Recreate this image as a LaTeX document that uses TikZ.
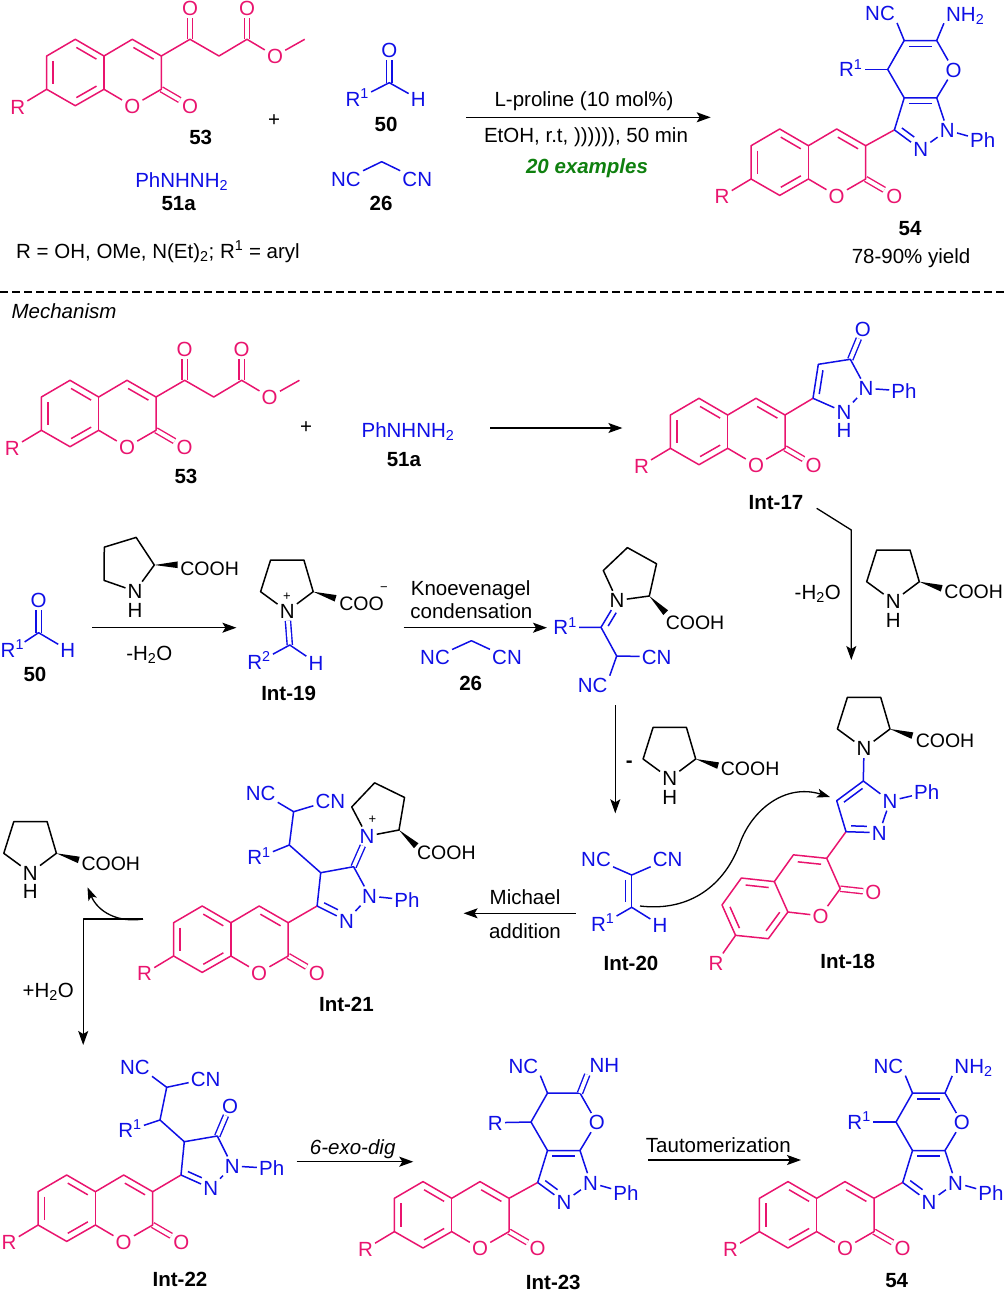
\documentclass[tikz,border=0pt]{standalone}
\usepackage{fontspec}
\setmainfont{Liberation Sans}
\usetikzlibrary{calc,arrows.meta}

\definecolor{coumpink}{RGB}{233,20,110}
\definecolor{azoblue}{RGB}{15,15,230}
\definecolor{exgreen}{RGB}{15,128,15}

\tikzset{
	dbond/.style={double,double distance=3.8pt,line width=1.4pt},
	rxn/.style={line width=1.3pt,-{Stealth[length=14pt,width=10pt,inset=3pt]}},
	small/.style={font=\fontsize{13}{13}\selectfont,text height=9pt},
	acid/.style={font=\fontsize{19.5}{22}\selectfont}
}

\newcommand\dblin[4][.15]{\draw ($(#2)!.15!(#3)!#4!90:(#3)$) -- ($(#3)!#1!(#2)!#4!-90:(#2)$);}

\newcommand\coumarin[4]{
	\begin{scope}[shift={(#2,#3)},rotate=#4,name prefix=#1-,coumpink]
		\coordinate (C3) at (0,0);
		\coordinate (C2) at (0,33.3);
		\coordinate (C8a) at (-57.3,33.3);
		\coordinate (C8) at (-86,49.7);
		\coordinate (C7) at (-114.6,33.3);
		\coordinate (C6) at (-114.6,0);
		\coordinate (C5) at (-86,-16.7);
		\coordinate (C4a) at (-57.3,0);
		\coordinate (C4) at (-29,-16.7);
		\node (O1) at (-29,50) {O};
		\node (Ox) at (28.7,50) {O};
		\node (Rg) at (-143.6,50.7) {R};
		\draw[dbond] (C2) -- (Ox);
		\draw (C3) -- (C2) -- (O1) -- (C8a) -- (C8) -- (C7) -- (C6) -- (C5) -- (C4a) -- (C4) -- (C3);
		\draw (C4a) -- (C8a);
		\draw (C7) -- (Rg);
		\dblin{C6}{C7}{6.5pt}
		\dblin{C8}{C8a}{6.5pt}
		\dblin{C4a}{C5}{6.5pt}
		\dblin{C3}{C4}{6.5pt}
	\end{scope}
}

% acetoacetate arm on the coumarin
\newcommand\ketoester[3]{
	\coumarin{#1}{#2}{#3}{0}
	\begin{scope}[shift={(#2,#3)},name prefix=#1-,coumpink]
		\coordinate (Ck) at (28.7,-16.7);
		\coordinate (Cm) at (57.7,0);
		\coordinate (Ce) at (85.7,-16.7);
		\coordinate (Me) at (143.4,-16.7);
		\node (Ok) at (28.7,-48) {O};
		\node (Oe) at (85.7,-48) {O};
		\node (Os) at (113.7,0) {O};
		\draw[dbond] (Ck) -- (Ok);
		\draw[dbond] (Ce) -- (Oe);
		\draw (C3) -- (Ck) -- (Cm) -- (Ce) -- (Os) -- (Me);
	\end{scope}
}

% bicyclic part shared by 54 and Int-23
\newcommand\fusedcore[3]{
	\begin{scope}[shift={(#2,#3)},name prefix=#1-,azoblue]
		\coordinate (Cp) at (28.7,-15.8);
		\coordinate (C3a) at (38.5,-47.8);
		\coordinate (C7a) at (71,-47.8);
		\coordinate (C9) at (71,-105.2);
		\coordinate (C10) at (38.5,-105.2);
		\coordinate (C11) at (22,-76.3);
		\node (N1) at (81.6,-15.5) {N};
		\node (N2) at (55,3.6) {N};
		\node (Oy) at (87.8,-75.7) {O};
		\node (Ph) at (117,-5.5) {Ph};
		\node (NC) at (14.3,-132.3) {NC};
		\draw[coumpink] (C3) -- (Cp);
		\draw (Cp) -- (C3a) -- (C7a) -- (N1) -- (N2) -- (Cp);
		\draw (C3a) -- (C11) -- (C10) -- (C9) -- (Oy) -- (C7a);
		\draw (N1) -- (Ph);
		\draw (C10) -- (NC.south east);
		\dblin[.38]{Cp}{N2}{6pt}
		\dblin{C3a}{C7a}{-5.5pt}
	\end{scope}
}

\newcommand\pyranamine[3]{
	\coumarin{#1}{#2}{#3}{0}
	\fusedcore{#1}{#2}{#3}
	\begin{scope}[shift={(#2,#3)},name prefix=#1-,azoblue]
		\node (NH) at (99.5,-132) {NH\textsubscript{2}};
		\node[anchor=east] (R1) at (-1,-76.3) {R\textsuperscript{1}};
		\draw (C9) -- (NH.south west);
		\draw (C11) -- (R1);
		\dblin{C10}{C9}{-6pt}
	\end{scope}
}

% pyrrolidine ring with the wedge, anchored at the alpha carbon
\newcommand\prolring[5]{
	\begin{scope}[shift={(#2,#3)},rotate=#4,name prefix=#1-]
		\coordinate (al) at (0,0);
		\coordinate (be) at (-9.3,-31.7);
		\coordinate (ga) at (-42.6,-31.7);
		\coordinate (de) at (-52.6,0);
		\coordinate (tip) at (22.4,6.6);
		\node[#5] (N) at (-26,19.5) {N};
		\draw (N) -- (al) -- (be) -- (ga) -- (de) -- (N);
		\fill (al) -- (21.5,9.8) -- (23.3,3.4) -- cycle;
	\end{scope}
}

\newcommand\freepro[4]{
	\prolring{#1}{#2}{#3}{#4}{black}
	\node (#1-H) at ($(#1-N)+(0,18.5)$) {H};
	\node[acid,anchor=west] (#1-acid) at ($(#1-tip)+(0.5,3)$) {COOH};
}

\begin{document}
\begin{tikzpicture}[x=1pt,y=-1pt,line width=1.5pt,line join=round,
	every node/.style={font=\fontsize{20.5}{23}\selectfont,inner sep=1.5pt,text height=14.7pt,text depth=0pt}]

	\useasboundingbox (0,0) rectangle (1004,1291);

	% top scheme
	\ketoester{s53}{161.3}{56}
	\node (lab53) at (200.7,137.3) {\textbf{53}};
	\node (plus) at (274,119.3) {+};

	\begin{scope}[azoblue]
		\coordinate (ald) at (389.3,82.7);
		\node (ald-O) at (389.3,50) {O};
		\node (ald-R) at (357.3,99) {R\textsuperscript{1}};
		\node (ald-H) at (418.3,99) {H};
		\draw[dbond] (ald) -- (ald-O);
		\draw (ald-R) -- (ald) -- (ald-H);
		\coordinate (mal) at (381.7,161.7);
		\node (mal-a) at (346,179) {NC};
		\node (mal-b) at (417.3,179) {CN};
		\draw (mal-a) -- (mal) -- (mal-b);
		\node (hyd) at (181.7,180) {PhNHNH\textsubscript{2}};
	\end{scope}
	\node (lab50) at (386,124) {\textbf{50}};
	\node (lab26) at (381,203.3) {\textbf{26}};
	\node (lab51) at (178.7,203.3) {\textbf{51a}};
	\node[anchor=west] (rdef) at (14,250.7) {R = OH, OMe, N(Et)\textsubscript{2}; R\textsuperscript{1} = aryl};

	\coordinate (a0s) at (466,117.3);
	\coordinate (a0e) at (710.7,117.3);
	\draw[rxn] (a0s) -- (a0e);
	\node (cond1) at (584,99.3) {L-proline (10 mol\%)};
	\node (cond2) at (586,135) {EtOH, r.t, )))))), 50 min};
	\node[exgreen] (cond3) at (587,166) {\textbf{\textit{20 examples}}};

	\pyranamine{s54}{865.7}{145.7}
	\node (lab54) at (910,228.3) {\textbf{54}};
	\node (yield) at (911,256) {78-90\% yield};

	\coordinate (dl) at (0,292);
	\coordinate (dr) at (1004,292);
	\draw[line width=1.2pt,dash pattern=on 8pt off 4pt] (dl) -- (dr);
	\node (mech) at (64,311) {\textit{Mechanism}};

	% first line of the mechanism
	\ketoester{m53}{156}{397}
	\node (mlab53) at (186,476) {\textbf{53}};
	\node (mplus) at (306,426) {+};
	\node[azoblue] (mhyd) at (408,430) {PhNHNH\textsubscript{2}};
	\node (mlab51) at (404,459) {\textbf{51a}};
	\coordinate (a1s) at (490,428);
	\coordinate (a1e) at (622.4,428);
	\draw[rxn] (a1s) -- (a1e);

	\coumarin{i17}{785}{415}{0}
	\begin{scope}[azoblue]
		\coordinate (i17a) at (813,398.3);
		\coordinate (i17b) at (818.3,364.3);
		\coordinate (i17c) at (850.3,359.3);
		\node (i17O) at (862.8,329) {O};
		\node (i17N) at (866,388.3) {N};
		\node (i17M) at (844,412) {N};
		\node (i17H) at (844,430) {H};
		\node (i17P) at (904,391) {Ph};
		\draw[dbond] (i17c) -- (i17O);
		\draw[coumpink] (i17-C3) -- (i17a);
		\draw (i17a) -- (i17b) -- (i17c) -- (i17N) -- (i17M) -- (i17a);
		\draw (i17N) -- (i17P);
		\dblin{i17a}{i17b}{-5.5pt}
	\end{scope}
	\node (lab17) at (776,501.7) {\textbf{Int-17}};

	\coordinate (a2s) at (816.7,508.3);
	\coordinate (a2m) at (851.3,530);
	\coordinate (a2e) at (851.3,660);
	\draw[rxn] (a2s) -- (a2m) -- (a2e);
	\node (wat1) at (817.7,591.7) {-H\textsubscript{2}O};

	% free L-proline, four times
	\freepro{pa}{154.3}{565}{17}
	\foreach \pn/\px/\py in {pb/919.3/581.7,pc/695.7/759,pd/56.4/853.3}{
		\freepro{\pn}{\px}{\py}{0}
	}

	% second line
	\begin{scope}[azoblue]
		\coordinate (bld) at (38.6,632.7);
		\node (bld-O) at (38.6,600) {O};
		\node[anchor=west,inner sep=0pt] (bld-R) at (0,650) {R\textsuperscript{1}};
		\node (bld-H) at (67.9,650) {H};
		\draw[dbond] (bld) -- (bld-O);
		\draw (bld-R) -- (bld) -- (bld-H);
		\coordinate (nal) at (471.4,640.7);
		\node (nal-a) at (435,657.3) {NC};
		\node (nal-b) at (507,657.3) {CN};
		\draw (nal-a) -- (nal) -- (nal-b);
	\end{scope}
	\node (blab50) at (35,674) {\textbf{50}};
	\node (blab26) at (470.7,683.3) {\textbf{26}};

	\coordinate (a3s) at (92,627.7);
	\coordinate (a3e) at (236.4,627.7);
	\draw[rxn] (a3s) -- (a3e);
	\node (wat2) at (149.3,652.7) {-H\textsubscript{2}O};

	\prolring{p19}{313.2}{591.7}{0}{black}
	\node[small] (p19plus) at (286.8,596) {+};
	\node[acid,anchor=west] (p19acid) at (337,603.3) {COO};
	\node[small] (p19minus) at (384,586.5) {\textminus};
	\begin{scope}[azoblue]
		\coordinate (c19) at (289.8,645);
		\node (c19R) at (259,661.7) {R\textsuperscript{2}};
		\node (c19H) at (316,662.7) {H};
		\draw[dbond] (p19-N) -- (c19);
		\draw (c19R) -- (c19) -- (c19H);
	\end{scope}
	\node (lab19) at (288.6,692.7) {\textbf{Int-19}};

	\coordinate (a4s) at (403.6,627.7);
	\coordinate (a4e) at (547,627.7);
	\draw[rxn] (a4s) -- (a4e);
	\node (knoe1) at (470.7,587.7) {Knoevenagel};
	\node (knoe2) at (471.4,611) {condensation};

	\prolring{pk}{649.3}{596}{-29}{black}
	\node[acid] (pkacid) at (695,621.7) {COOH};
	\begin{scope}[azoblue]
		\coordinate (k1) at (601,627.3);
		\coordinate (k2) at (616.7,656);
		\node[anchor=east] (kR) at (579,627.3) {R\textsuperscript{1}};
		\node (kb) at (656.7,656.7) {CN};
		\node (ka) at (592.7,685.3) {NC};
		\draw (kR) -- (k1) -- (k2) -- (kb);
		\draw (k2) -- (ka.north east);
		\draw (k1) -- (pk-N);
		\dblin[.35]{k1}{pk-N}{-5.5pt}
	\end{scope}

	\coordinate (a5s) at (615.3,705);
	\coordinate (a5e) at (615.3,813.3);
	\draw[rxn] (a5s) -- (a5e);
	\node (minus) at (629.3,760) {\textbf{-}};

	% Int-18 and Int-20
	\prolring{p18}{890}{729}{0}{black}
	\node[acid] (p18acid) at (945,740) {COOH};
	\coumarin{i18}{826.7}{858.3}{24}
	\begin{scope}[azoblue]
		\coordinate (h1) at (863.3,781);
		\coordinate (h2) at (836.7,800.7);
		\coordinate (h3) at (846,831.7);
		\node (hN) at (890,801) {N};
		\node (hM) at (879.3,832.7) {N};
		\node (hP) at (926.7,792.3) {Ph};
		\draw[coumpink] (i18-C3) -- (h3);
		\draw (p18-N) -- (h1) -- (h2) -- (h3) -- (hM) -- (hN) -- (h1);
		\draw (hN) -- (hP);
		\dblin{h1}{h2}{5.5pt}
		\dblin[.38]{h3}{hM}{6pt}
	\end{scope}
	\node (lab18) at (847.7,960.7) {\textbf{Int-18}};

	\begin{scope}[azoblue]
		\coordinate (v1) at (631.7,875);
		\coordinate (v2) at (631.7,907.3);
		\node (va) at (596,859.3) {NC};
		\node (vb) at (667.7,859.3) {CN};
		\node (vR) at (602.7,924) {R\textsuperscript{1}};
		\node (vH) at (660,925) {H};
		\draw (va) -- (v1) -- (vb);
		\draw (v1) -- (v2);
		\draw (vR) -- (v2) -- (vH);
		\dblin{v1}{v2}{-6pt}
	\end{scope}
	\node (lab20) at (631,962.7) {\textbf{Int-20}};

	\coordinate (a6s) at (640,906);
	\coordinate (a6m) at (740,843);
	\coordinate (a6e) at (830,797);
	\draw[line width=1.3pt,-{Stealth[length=13pt,width=9pt,inset=3pt]}] (a6s) .. controls (690,912) and (725,885) .. (a6m) .. controls (752,810) and (785,783) .. (a6e);

	\coordinate (a7s) at (575.7,913.3);
	\coordinate (a7e) at (463.6,913.3);
	\draw[rxn] (a7s) -- (a7e);
	\node (mich1) at (525,897) {Michael};
	\node (mich2) at (525,931) {addition};

	% Int-21
	\coumarin{i21}{288.2}{922.7}{0}
	\prolring{p21}{399}{830}{-26}{azoblue}
	\node[small] (p21plus) at (372.5,819.3) {+};
	\node[acid] (p21acid) at (446.4,852.3) {COOH};
	\begin{scope}[azoblue]
		\coordinate (w1) at (317.1,906);
		\coordinate (w2) at (320.7,872.7);
		\coordinate (w3) at (353.6,866.7);
		\coordinate (w4) at (289.3,845);
		\coordinate (w5) at (293.6,811.7);
		\node (wN) at (369.6,896) {N};
		\node (wM) at (346.4,920.7) {N};
		\node (wP) at (407,900) {Ph};
		\node (wR) at (259,857.3) {R\textsuperscript{1}};
		\node (wa) at (260.7,792.7) {NC};
		\node (wb) at (330.4,800.7) {CN};
		\draw[dbond] (w3) -- (p21-N);
		\draw[coumpink] (i21-C3) -- (w1);
		\draw (w1) -- (w2) -- (w3) -- (wN) -- (wM) -- (w1);
		\draw (wN) -- (wP);
		\draw (w2) -- (w4) -- (w5) -- (wb);
		\draw (w4) -- (wR);
		\draw (w5) -- (wa.south east);
		\dblin[.38]{w1}{wM}{6pt}
	\end{scope}
	\node (lab21) at (346.4,1004.3) {\textbf{Int-21}};

	\coordinate (a8s) at (143,919);
	\coordinate (a8c) at (83.2,919);
	\coordinate (a8e) at (83.2,1045);
	\coordinate (a8t) at (87.5,887.3);
	\draw[rxn] (a8s) -- (a8c) -- (a8e);
	\draw[line width=1.3pt,-{Stealth[length=13pt,width=9pt,inset=3pt]}] (a8s) .. controls (118,923) and (98,912) .. (a8t);
	\node (wat3) at (48.2,990) {+H\textsubscript{2}O};

	% last line
	\coumarin{i22}{152.7}{1191.7}{0}
	\begin{scope}[azoblue]
		\coordinate (y1) at (181,1175);
		\coordinate (y2) at (184.3,1141.7);
		\coordinate (y3) at (217.3,1136);
		\coordinate (y4) at (160,1120);
		\coordinate (y5) at (166.7,1087.3);
		\node (yO) at (230,1106) {O};
		\node (yN) at (232.3,1166) {N};
		\node (yM) at (210.7,1188.3) {N};
		\node (yP) at (271.7,1168.3) {Ph};
		\node (yR) at (130,1130) {R\textsuperscript{1}};
		\node (ya) at (135,1066.7) {NC};
		\node (yb) at (205.7,1079) {CN};
		\draw[dbond] (y3) -- (yO);
		\draw[coumpink] (i22-C3) -- (y1);
		\draw (y1) -- (y2) -- (y3) -- (yN) -- (yM) -- (y1);
		\draw (yN) -- (yP);
		\draw (y2) -- (y4) -- (y5) -- (yb);
		\draw (y4) -- (yR);
		\draw (y5) -- (ya.south east);
		\dblin[.38]{y1}{yM}{6pt}
	\end{scope}
	\node (lab22) at (180,1279.3) {\textbf{Int-22}};

	\coordinate (a9s) at (296.7,1161.7);
	\coordinate (a9e) at (413.3,1161.7);
	\draw[rxn] (a9s) -- (a9e);
	\node (exo) at (352.7,1147.3) {\textit{6-exo-dig}};

	\coumarin{i23}{509}{1198.3}{0}
	\fusedcore{i23}{509}{1198.3}
	\begin{scope}[azoblue]
		\node (zN) at (604.3,1065) {NH};
		\node[anchor=east] (zR) at (505,1122.7) {R};
		\draw[dbond] (i23-C9) -- (zN.south west);
		\draw (i23-C11) -- (zR);
	\end{scope}
	\node (lab23) at (553.3,1281.7) {\textbf{Int-23}};

	\coordinate (a10s) at (648.3,1160);
	\coordinate (a10e) at (801,1160);
	\draw[rxn] (a10s) -- (a10e);
	\node (taut) at (718.3,1145) {Tautomerization};

	\pyranamine{e54}{874}{1198.3}
	\node[inner sep=0pt] (elab54) at (896.7,1280.5) {\textbf{54}};

\end{tikzpicture}
\end{document}
